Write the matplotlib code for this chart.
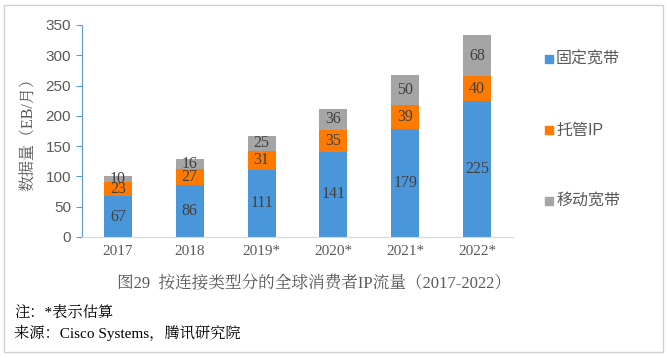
import matplotlib
matplotlib.use("Agg")
import matplotlib.pyplot as plt
from matplotlib.patches import Rectangle
import numpy as np

categories = ["2017", "2018", "2019*", "2020*", "2021*", "2022*"]
fixed = [67, 86, 111, 141, 179, 225]
managed = [23, 27, 31, 35, 39, 40]
mobile = [10, 16, 25, 36, 50, 68]
series_names = ["固定宽带", "托管IP", "移动宽带"]
yticks = [0, 50, 100, 150, 200, 250, 300, 350]

SERIF = ["Liberation Serif", "Noto Serif CJK SC", "Noto Sans CJK SC", "DejaVu Sans"]
SANS = ["Liberation Sans", "Noto Sans CJK SC", "DejaVu Sans"]
plt.rcParams['font.family'] = SERIF

colors = ["#4A96DA", "#FF7A00", "#A5A5A5"]
text_col = "#595959"

fig = plt.figure(figsize=(6.67, 3.58), dpi=100)
ax = fig.add_axes([82/667, 1-237/358, (513-82)/667, (237-25)/358])

x = np.arange(len(categories))
w = 0.39
bottoms = np.zeros(len(categories))
for vals, col, name in zip([fixed, managed, mobile], colors, series_names):
    ax.bar(x, vals, w, bottom=bottoms, color=col, label=name, zorder=2)
    for xi, b, v in zip(x, bottoms, vals):
        ax.text(xi, b + v/2, str(v), ha="center", va="center", fontsize=11.5,
                color="#404040", family=SERIF)
    bottoms += np.array(vals)

ax.set_xlim(-0.5, len(categories)-0.5)
ax.set_ylim(0, 350)
ax.set_yticks(yticks)
ax.set_yticklabels([str(t) for t in yticks], family=SANS, fontsize=11, color=text_col)
ax.set_xticks(x)
ax.set_xticklabels(categories, family=SERIF, fontsize=11, color=text_col)
ax.tick_params(axis="x", length=0, pad=6)
ax.tick_params(axis="y", length=4, color="#5B9BD5", pad=4)
for s in ["top", "right"]:
    ax.spines[s].set_visible(False)
ax.spines["left"].set_color("#5B9BD5")
ax.spines["bottom"].set_color("#D9D9D9")
ax.set_ylabel("数据量（EB/月）", family=SERIF, fontsize=11.5, color=text_col, labelpad=6)

# legend
leg_y = [59, 130, 201]
for yy, col, name in zip(leg_y, colors, series_names):
    fig.patches.append(Rectangle((545/667, 1-(yy+4)/358), 8/667, 8/358,
                                 transform=fig.transFigure, color=col))
    fig.text(556/667, 1-yy/358, name, family=SANS, fontsize=11.5, color=text_col,
             va="center", ha="left")

fig.text(314/667, 1-283/358, "图29  按连接类型分的全球消费者IP流量（2017-2022）",
         family=SERIF, fontsize=12, color=text_col, ha="center", va="center")
fig.text(14/667, 1-313/358, "注：*表示估算", family=SERIF, fontsize=11,
         color="black", ha="left", va="center")
fig.text(14/667, 1-333/358, "来源：Cisco Systems，腾讯研究院", family=SERIF, fontsize=11,
         color="black", ha="left", va="center")

fig.patches.append(Rectangle((4/667, 1-352/358), 659/667, 347/358, transform=fig.transFigure,
                             fill=False, edgecolor="#D0D0D0", linewidth=1))

fig.savefig("out.png", dpi=100)
